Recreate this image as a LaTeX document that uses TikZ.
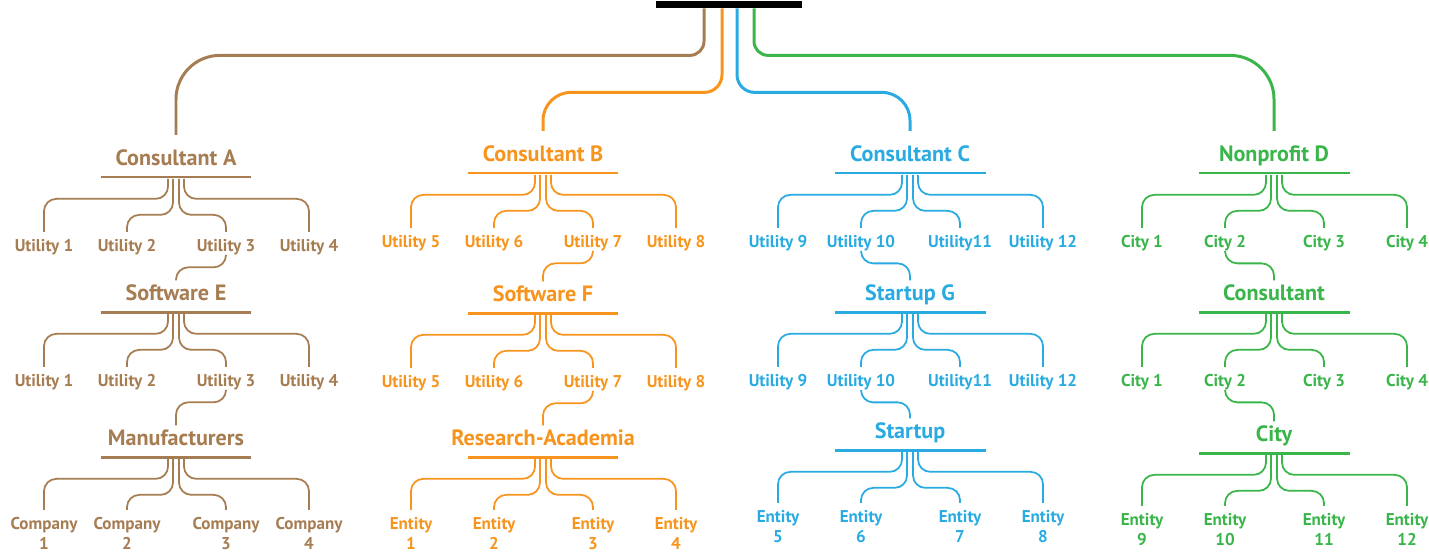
\documentclass[tikz,border=0pt]{standalone}
\usepackage{fontspec}
\setmainfont{PT Sans}
\usetikzlibrary{positioning,calc}
\definecolor{brownc}{HTML}{A67C52}
\definecolor{orangec}{HTML}{F7941D}
\definecolor{bluec}{HTML}{29ABE2}
\definecolor{greenc}{HTML}{39B54A}
\tikzset{
	%titles sit on a bar, leaves hang below it
	head/.style = {font=\bfseries\fontsize{12.6}{14}\selectfont,
                           inner sep=2pt, anchor=base},
	leaf/.style = {font=\bfseries\fontsize{9.7}{11.2}\selectfont,
                           inner sep=0pt, anchor=north, align=center},
	underline/.style = {rectangle, fill, inner sep=0pt,
                           minimum width=3.02cm, minimum height=1.7pt},
	trunk/.style = {line width=1.7pt},
	twig/.style = {line width=1pt, rounded corners=7pt}
}
% four twigs from a bar to its four leaves
\newcommand{\fanout}[5]{%
	\draw[twig] ($(#1.south)+(-8,0)$) -- ++(0,20) -| ([yshift=4pt]#2.north);
	\draw[twig] ($(#1.south)+(-3,0)$) -- ++(0,36) -| ([yshift=4pt]#3.north);
	\draw[twig] ($(#1.south)+(3,0)$)  -- ++(0,36) -| ([yshift=4pt]#4.north);
	\draw[twig] ($(#1.south)+(8,0)$)  -- ++(0,20) -| ([yshift=4pt]#5.north);
}

\begin{document}
\begin{tikzpicture}[x=0.02cm, y=-0.02cm]
	\useasboundingbox (0,0) rectangle (1429,555);
	\node (root) [rectangle, fill=black, inner sep=0pt,
	              minimum width=2.92cm, minimum height=4pt] at (729,4.5) {};

	% Consultant A
	\begin{scope}[color=brownc]
		\node (conA) [head] at (176,165) {Consultant A};
		\node (barA1) [underline] at (176,177) {};
		\node (a11) [leaf] at (44,239)  {Utility 1};
		\node (a12) [leaf] at (127,239) {Utility 2};
		\node (a13) [leaf] at (226,239) {Utility 3};
		\node (a14) [leaf] at (309,239) {Utility 4};
		\fanout{barA1}{a11}{a12}{a13}{a14}
		\node (softE) [head] at (176,300) {Software E};
		\node (barA2) [underline] at (176,312) {};
		\node (a21) [leaf] at (44,374)  {Utility 1};
		\node (a22) [leaf] at (127,374) {Utility 2};
		\node (a23) [leaf] at (226,374) {Utility 3};
		\node (a24) [leaf] at (309,374) {Utility 4};
		\fanout{barA2}{a21}{a22}{a23}{a24}
		\node (manu) [head] at (176,445) {Manufacturers};
		\node (barA3) [underline] at (176,457) {};
		\node (a31) [leaf] at (44,517)  {Company\\1};
		\node (a32) [leaf] at (127,517) {Company\\2};
		\node (a33) [leaf] at (226,517) {Company\\3};
		\node (a34) [leaf] at (309,517) {Company\\4};
		\fanout{barA3}{a31}{a32}{a33}{a34}
		\draw[twig] (a13.south) -- ++(0,12) -| (softE.north);
		\draw[twig] (a23.south) -- ++(0,12) -| (manu.north);
		\draw[trunk] ($(root.south)+(-25,0)$) [rounded corners=8pt] -- ++(0,47)
			[rounded corners=25pt] -- ($(conA.north |- root.south)+(0,47)$)
			-- ([yshift=6pt]conA.north);
	\end{scope}

	% Consultant B
	\begin{scope}[color=orangec]
		\node (conB) [head] at (543,161) {Consultant B};
		\node (barB1) [underline] at (543,173) {};
		\node (b11) [leaf] at (411,235) {Utility 5};
		\node (b12) [leaf] at (494,235) {Utility 6};
		\node (b13) [leaf] at (593,235) {Utility 7};
		\node (b14) [leaf] at (676,235) {Utility 8};
		\fanout{barB1}{b11}{b12}{b13}{b14}
		\node (softF) [head] at (543,301) {Software F};
		\node (barB2) [underline] at (543,313) {};
		\node (b21) [leaf] at (411,375) {Utility 5};
		\node (b22) [leaf] at (494,375) {Utility 6};
		\node (b23) [leaf] at (593,375) {Utility 7};
		\node (b24) [leaf] at (676,375) {Utility 8};
		\fanout{barB2}{b21}{b22}{b23}{b24}
		\node (resAc) [head] at (543,445) {Research-Academia};
		\node (barB3) [underline] at (543,457) {};
		\node (b31) [leaf] at (411,517) {Entity\\1};
		\node (b32) [leaf] at (494,517) {Entity\\2};
		\node (b33) [leaf] at (593,517) {Entity\\3};
		\node (b34) [leaf] at (676,517) {Entity\\4};
		\fanout{barB3}{b31}{b32}{b33}{b34}
		\draw[twig] (b13.south) -- ++(0,12) -| (softF.north);
		\draw[twig] (b23.south) -- ++(0,12) -| (resAc.north);
		\draw[trunk] ($(root.south)+(-7,0)$) [rounded corners=10pt] -- ++(0,84)
			[rounded corners=16pt] -- ($(conB.north |- root.south)+(0,84)$)
			-- ([yshift=6pt]conB.north);
	\end{scope}

	% Consultant C
	\begin{scope}[color=bluec]
		\node (conC) [head] at (910,161) {Consultant C};
		\node (barC1) [underline] at (910,173) {};
		\node (c11) [leaf] at (778,235)  {Utility 9};
		\node (c12) [leaf] at (861,235)  {Utility 10};
		\node (c13) [leaf] at (960,235)  {Utility11};
		\node (c14) [leaf] at (1043,235) {Utility 12};
		\fanout{barC1}{c11}{c12}{c13}{c14}
		\node (startG) [head] at (910,300) {Startup G};
		\node (barC2) [underline] at (910,312) {};
		\node (c21) [leaf] at (778,374)  {Utility 9};
		\node (c22) [leaf] at (861,374)  {Utility 10};
		\node (c23) [leaf] at (960,374)  {Utility11};
		\node (c24) [leaf] at (1043,374) {Utility 12};
		\fanout{barC2}{c21}{c22}{c23}{c24}
		\node (startup) [head] at (910,438) {Startup};
		\node (barC3) [underline] at (910,450) {};
		\node (c31) [leaf] at (778,510)  {Entity\\5};
		\node (c32) [leaf] at (861,510)  {Entity\\6};
		\node (c33) [leaf] at (960,510)  {Entity\\7};
		\node (c34) [leaf] at (1043,510) {Entity\\8};
		\fanout{barC3}{c31}{c32}{c33}{c34}
		\draw[twig] (c12.south) -- ++(0,12) -| (startG.north);
		\draw[twig] (c22.south) -- ++(0,12) -| (startup.north);
		\draw[trunk] ($(root.south)+(8,0)$) [rounded corners=10pt] -- ++(0,84)
			[rounded corners=16pt] -- ($(conC.north |- root.south)+(0,84)$)
			-- ([yshift=6pt]conC.north);
	\end{scope}

	% Nonprofit D
	\begin{scope}[color=greenc]
		\node (nonD) [head] at (1274,161) {Nonprofit D};
		\node (barD1) [underline] at (1274,173) {};
		\node (d11) [leaf] at (1142,235) {City 1};
		\node (d12) [leaf] at (1225,235) {City 2};
		\node (d13) [leaf] at (1324,235) {City 3};
		\node (d14) [leaf] at (1407,235) {City 4};
		\fanout{barD1}{d11}{d12}{d13}{d14}
		\node (consult) [head] at (1274,300) {Consultant};
		\node (barD2) [underline] at (1274,312) {};
		\node (d21) [leaf] at (1142,374) {City 1};
		\node (d22) [leaf] at (1225,374) {City 2};
		\node (d23) [leaf] at (1324,374) {City 3};
		\node (d24) [leaf] at (1407,374) {City 4};
		\fanout{barD2}{d21}{d22}{d23}{d24}
		\node (city) [head] at (1274,441) {City};
		\node (barD3) [underline] at (1274,453) {};
		\node (d31) [leaf] at (1142,513) {Entity\\9};
		\node (d32) [leaf] at (1225,513) {Entity\\10};
		\node (d33) [leaf] at (1324,513) {Entity\\11};
		\node (d34) [leaf] at (1407,513) {Entity\\12};
		\fanout{barD3}{d31}{d32}{d33}{d34}
		\draw[twig] (d12.south) -- ++(0,12) -| (consult.north);
		\draw[twig] (d22.south) -- ++(0,12) -| (city.north);
		\draw[trunk] ($(root.south)+(25,0)$) [rounded corners=8pt] -- ++(0,47)
			[rounded corners=25pt] -- ($(nonD.north |- root.south)+(0,47)$)
			-- ([yshift=6pt]nonD.north);
	\end{scope}
\end{tikzpicture}
\end{document}
